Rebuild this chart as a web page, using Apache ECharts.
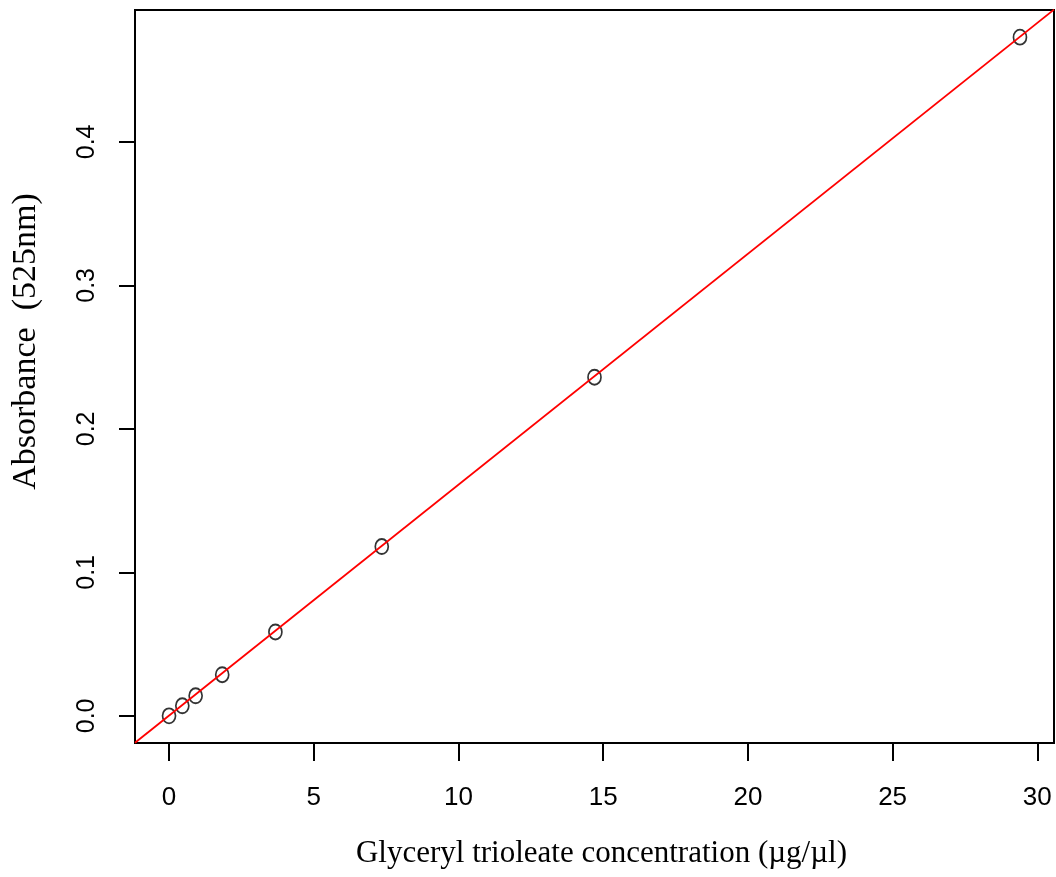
<!DOCTYPE html>
<html>
<head>
<meta charset="utf-8">
<script src="https://cdn.jsdelivr.net/npm/echarts@6/dist/echarts.min.js"></script>
<style>
html,body{margin:0;padding:0;background:#fff;}
#chart{width:1056px;height:877px;}
</style>
</head>
<body>
<div id="chart"></div>
<script>
// Data
const concentration = [0, 0.459, 0.919, 1.8375, 3.675, 7.35, 14.7, 29.4];
const absorbance = [0, 0.007, 0.014, 0.0287, 0.0585, 0.118, 0.236, 0.473];
const xTicks = [0, 5, 10, 15, 20, 25, 30];
const yTicks = [0, 0.1, 0.2, 0.3, 0.4];
const fitIntercept = 0.0002;
const fitSlope = 0.01609;
const xLabel = 'Glyceryl trioleate concentration (\u00b5g/\u00b5l)';
const yLabel = 'Absorbance  (525nm)';

// R-style 4% range extension
const xr = Math.max(...concentration) - Math.min(...concentration);
const yr = Math.max(...absorbance) - Math.min(...absorbance);
const xMin = Math.min(...concentration) - 0.04 * xr;
const xMax = Math.max(...concentration) + 0.04 * xr;
const yMin = Math.min(...absorbance) - 0.04 * yr;
const yMax = Math.max(...absorbance) + 0.04 * yr;

const points = concentration.map((x, i) => [x, absorbance[i]]);
const fitLine = [xMin, xMax].map(x => [x, fitIntercept + fitSlope * x]);

const chart = echarts.init(document.getElementById('chart'), null, {renderer: 'canvas'});
chart.setOption({
  animation: false,
  backgroundColor: '#fff',
  grid: {left: 135, top: 10, right: 2, bottom: 134, show: true, borderColor: '#000', borderWidth: 2, backgroundColor: 'transparent'},
  xAxis: {
    type: 'value', min: xMin, max: xMax,
    axisLine: {show: false, onZero: false},
    splitLine: {show: false},
    axisTick: {show: true, length: 18, customValues: xTicks, lineStyle: {color: '#000', width: 2}},
    axisLabel: {customValues: xTicks, margin: 42, color: '#000', fontFamily: 'Liberation Sans', fontSize: 26},
    name: xLabel, nameLocation: 'middle', nameGap: 95,
    nameTextStyle: {fontFamily: 'Liberation Serif', fontSize: 31, color: '#000', padding: [0, 0, 0, 14]}
  },
  yAxis: {
    type: 'value', min: yMin, max: yMax,
    axisLine: {show: false, onZero: false},
    splitLine: {show: false},
    axisTick: {show: true, length: 16, customValues: yTicks, lineStyle: {color: '#000', width: 2}},
    axisLabel: {customValues: yTicks, rotate: 90, margin: 35, color: '#000', fontFamily: 'Liberation Sans', fontSize: 25,
      formatter: v => v.toFixed(1)},
    name: yLabel, nameLocation: 'middle', nameGap: 92,
    nameTextStyle: {fontFamily: 'Liberation Serif', fontSize: 34, color: '#000', padding: [0, 0, 0, 70]}
  },
  series: [
    {
      type: 'scatter', data: points, symbol: 'circle', symbolSize: [13, 15],
      itemStyle: {color: 'transparent', borderColor: '#000', borderWidth: 1.8}, z: 2
    },
    {
      type: 'line', data: fitLine, showSymbol: false, symbol: 'none', clip: true,
      lineStyle: {color: '#ff0000', width: 1.8}, z: 3
    }
  ]
});
</script>
</body>
</html>
